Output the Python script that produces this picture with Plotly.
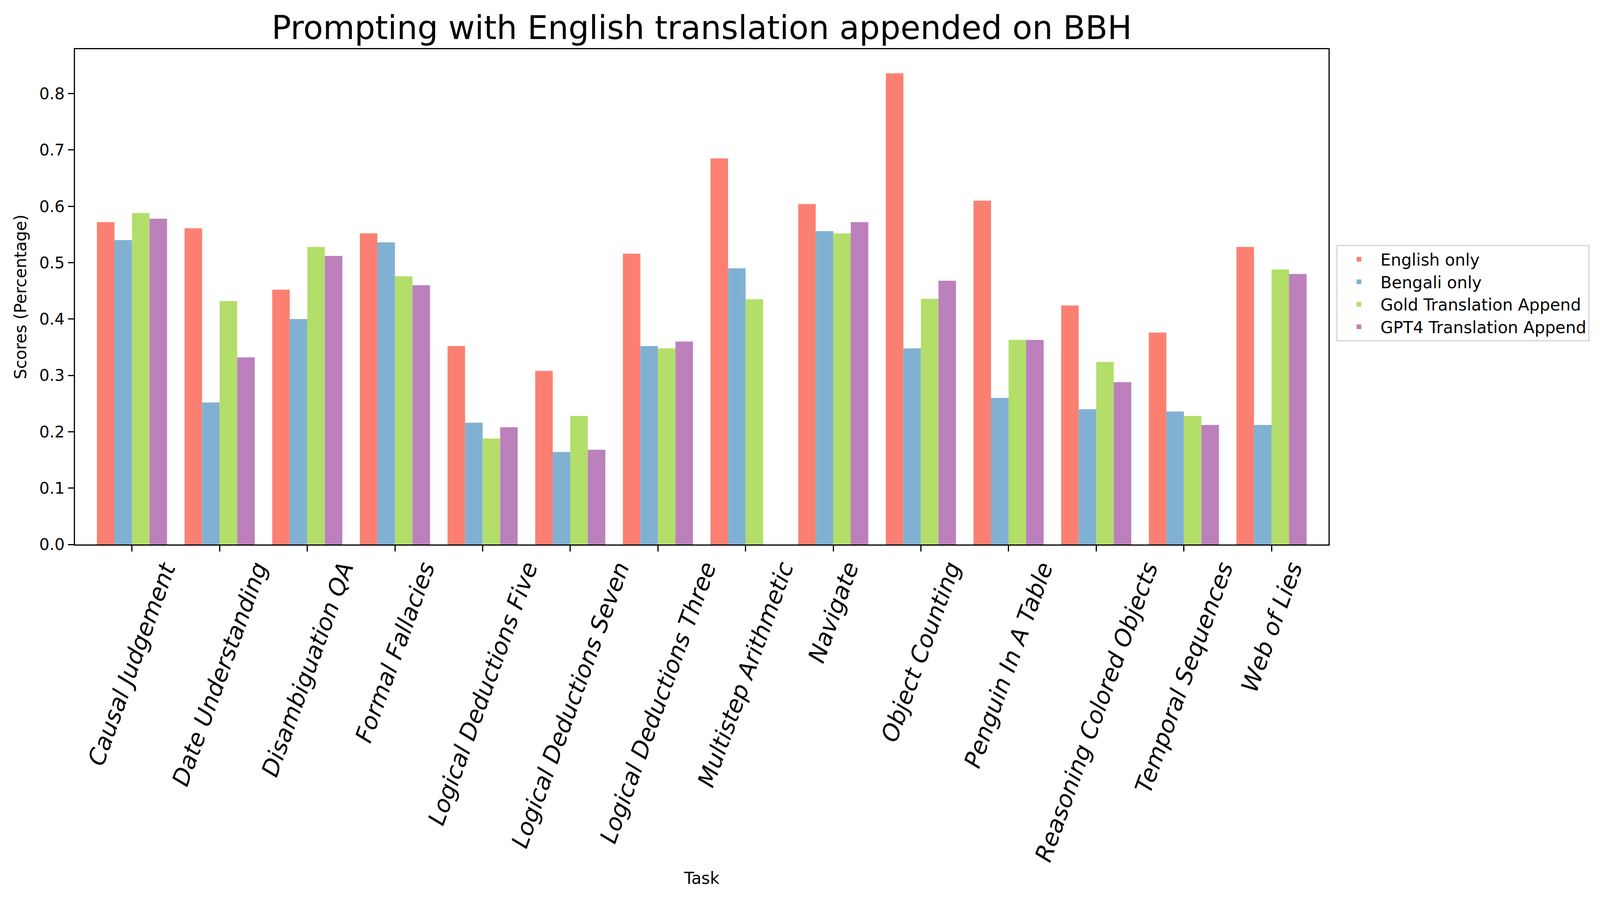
import plotly.graph_objects as go

# tasks on the x axis
tasks = ["Causal Judgement", "Date Understanding", "Disambiguation QA",
         "Formal Fallacies", "Logical Deductions Five",
         "Logical Deductions Seven", "Logical Deductions Three",
         "Multistep Arithmetic", "Navigate", "Object Counting",
         "Penguin In A Table", "Reasoning Colored Objects",
         "Temporal Sequences", "Web of Lies"]

# scores
english_only = [0.572, 0.561, 0.452, 0.552, 0.352, 0.308, 0.516,
                0.685, 0.604, 0.836, 0.610, 0.424, 0.376, 0.528]
bengali_only = [0.540, 0.252, 0.400, 0.536, 0.216, 0.164, 0.352,
                0.490, 0.556, 0.348, 0.260, 0.240, 0.236, 0.212]
gold_append = [0.588, 0.432, 0.528, 0.476, 0.188, 0.228, 0.348,
               0.435, 0.552, 0.436, 0.363, 0.324, 0.228, 0.488]
gpt4_append = [0.578, 0.332, 0.512, 0.460, 0.208, 0.168, 0.360,
               None, 0.572, 0.468, 0.363, 0.288, 0.212, 0.480]

series = [("English only", english_only, "#FB8072"),
          ("Bengali only", bengali_only, "#80B1D3"),
          ("Gold Translation Append", gold_append, "#B3DE69"),
          ("GPT4 Translation Append", gpt4_append, "#BC80BD")]

FONT = "DejaVu Sans"
W, H = 4115, 2312
L, R, T, B = 184, 3393, 118, 1386

x_pos = list(range(len(tasks)))

fig = go.Figure()
for name, vals, col in series:
    fig.add_trace(go.Bar(x=x_pos, y=vals, name=name,
                         marker=dict(color=col, line=dict(width=0))))

# rotated, italic task labels centred under each group (matplotlib style)
for i, t in enumerate(tasks):
    fig.add_annotation(x=i, xref="x", y=0, yref="paper", yshift=-33,
                       text=t, showarrow=False, textangle=-70,
                       xanchor="center", yanchor="top",
                       font=dict(family=FONT, size=60, color="black",
                                 style="italic"))

fig.update_layout(
    width=W, height=H, autosize=False,
    margin=dict(l=L, r=W - R, t=T, b=H - B, pad=0),
    paper_bgcolor="white", plot_bgcolor="white",
    barmode="group", bargap=0.2, bargroupgap=0,
    font=dict(family=FONT, size=42, color="black"),
    title=dict(text="Prompting with English translation appended on BBH",
               x=0.5, xref="paper", xanchor="center",
               y=1 - 63 / H, yref="container", yanchor="middle",
               font=dict(family=FONT, size=83, color="black")),
    legend=dict(x=(3413 - L) / (R - L), xanchor="left",
                y=(B - 619) / (B - T), yanchor="top",
                bordercolor="#d6d6d6", borderwidth=3, bgcolor="white",
                font=dict(family=FONT, size=42, color="black"),
                itemwidth=100, tracegroupgap=0),
)

fig.update_xaxes(range=[-0.65, 13.65], tickvals=x_pos, showticklabels=False,
                 ticks="outside", ticklen=15, tickwidth=3.3, tickcolor="black",
                 showline=True, linecolor="black", linewidth=3.3, mirror=True,
                 showgrid=False, zeroline=False,
                 title=dict(text="Task", standoff=823,
                            font=dict(family=FONT, size=42)))
fig.update_yaxes(range=[0, 0.8788], tickvals=[0, 0.1, 0.2, 0.3, 0.4, 0.5, 0.6, 0.7, 0.8],
                 tickformat=".1f", ticks="outside", ticklen=15, tickwidth=3.3,
                 tickcolor="black", tickfont=dict(family=FONT, size=41),
                 showline=True, linecolor="black", linewidth=3.3, mirror=True,
                 showgrid=False, zeroline=False,
                 title=dict(text="Scores (Percentage)", standoff=20,
                            font=dict(family=FONT, size=42)))

fig.write_html("out.html")
